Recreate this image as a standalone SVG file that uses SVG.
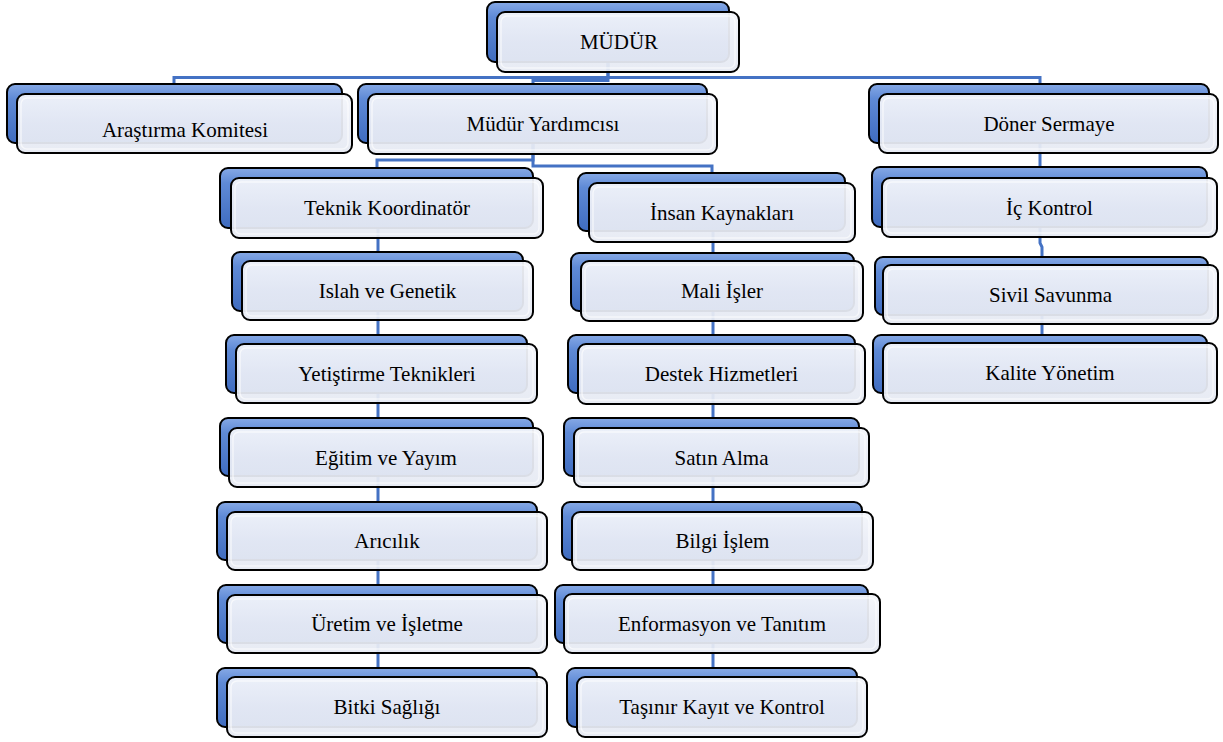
<svg xmlns="http://www.w3.org/2000/svg" width="1223" height="742" viewBox="0 0 1223 742">
<defs>
<linearGradient id="gBack" x1="0" y1="0" x2="0" y2="1">
<stop offset="0" stop-color="#86A9E6"/>
<stop offset="0.25" stop-color="#5F8AD6"/>
<stop offset="1" stop-color="#3F6CC0"/>
</linearGradient>
<linearGradient id="gFront" x1="0" y1="0" x2="0" y2="1">
<stop offset="0" stop-color="#F4F6FB"/>
<stop offset="0.5" stop-color="#EAEDF6"/>
<stop offset="1" stop-color="#E6EAF3"/>
</linearGradient>
</defs>
<style>
.back{fill:url(#gBack);stroke:#000;stroke-width:2;}
.front{fill:url(#gFront);fill-opacity:0.94;stroke:#000;stroke-width:2;}
.gloss{fill:none;stroke:#FFFFFF;stroke-opacity:0.6;stroke-width:1.5;}
.lbl{font-family:"Liberation Serif","Times New Roman",serif;font-size:21px;fill:#000;text-anchor:middle;}
.conn{fill:none;stroke:#4472C4;stroke-width:3;}
</style>
<rect width="1223" height="742" fill="#FFFFFF"/>
<g id="connectors">
<path class="conn" d="M608,62 V77.5 H174 V84"/>
<path class="conn" d="M608,77.5 H1040 V84"/>
<path class="conn" d="M608,62 V80.5 H533 V84"/>
<path class="conn" d="M533,143 V160 H377 V168"/>
<path class="conn" d="M533,143 V166 H712 V173"/>
<path class="conn" d="M378,228 V668"/>
<path class="conn" d="M713,231 V668"/>
<path class="conn" d="M1040,143 V243 L1042,247 V335"/>
</g>
<g id="n-mudur"><rect class="back" x="487" y="2" width="242" height="60" rx="8"/><rect class="front" x="497" y="12" width="242" height="60" rx="8"/><rect class="gloss" x="501" y="16" width="234" height="52" rx="6"/><text class="lbl" x="619" y="49">MÜDÜR</text></g>
<g id="n-arastirma"><rect class="back" x="7" y="84" width="335" height="59" rx="8"/><rect class="front" x="17" y="94" width="335" height="59" rx="8"/><rect class="gloss" x="21" y="98" width="327" height="51" rx="6"/><text class="lbl" x="185" y="137">Araştırma Komitesi</text></g>
<g id="n-yardimci"><rect class="back" x="358" y="84" width="349" height="59" rx="8"/><rect class="front" x="368" y="94" width="349" height="60" rx="8"/><rect class="gloss" x="372" y="98" width="341" height="52" rx="6"/><text class="lbl" x="543" y="131">Müdür Yardımcısı</text></g>
<g id="n-doner"><rect class="back" x="869" y="84" width="340" height="59" rx="8"/><rect class="front" x="879" y="94" width="339" height="59" rx="8"/><rect class="gloss" x="883" y="98" width="331" height="51" rx="6"/><text class="lbl" x="1049" y="131">Döner Sermaye</text></g>
<g id="n-teknik"><rect class="back" x="220" y="168" width="313" height="60" rx="8"/><rect class="front" x="231" y="178" width="312" height="60" rx="8"/><rect class="gloss" x="235" y="182" width="304" height="52" rx="6"/><text class="lbl" x="387" y="215">Teknik Koordinatör</text></g>
<g id="n-islah"><rect class="back" x="232" y="252" width="291" height="59" rx="8"/><rect class="front" x="242" y="261" width="291" height="59" rx="8"/><rect class="gloss" x="246" y="265" width="283" height="51" rx="6"/><text class="lbl" x="387.5" y="298">Islah ve Genetik</text></g>
<g id="n-yetistirme"><rect class="back" x="226" y="335" width="301" height="58" rx="8"/><rect class="front" x="236" y="344" width="301" height="59" rx="8"/><rect class="gloss" x="240" y="348" width="293" height="51" rx="6"/><text class="lbl" x="387" y="381">Yetiştirme Teknikleri</text></g>
<g id="n-egitim"><rect class="back" x="220" y="418" width="313" height="58" rx="8"/><rect class="front" x="229" y="428" width="314" height="59" rx="8"/><rect class="gloss" x="233" y="432" width="306" height="51" rx="6"/><text class="lbl" x="386" y="465">Eğitim ve Yayım</text></g>
<g id="n-aricilik"><rect class="back" x="217" y="502" width="320" height="58" rx="8"/><rect class="front" x="227" y="512" width="320" height="58" rx="8"/><rect class="gloss" x="231" y="516" width="312" height="50" rx="6"/><text class="lbl" x="387" y="548">Arıcılık</text></g>
<g id="n-uretim"><rect class="back" x="218" y="585" width="319" height="58" rx="8"/><rect class="front" x="227" y="595" width="320" height="58" rx="8"/><rect class="gloss" x="231" y="599" width="312" height="50" rx="6"/><text class="lbl" x="387" y="631">Üretim ve İşletme</text></g>
<g id="n-bitki"><rect class="back" x="217" y="668" width="320" height="59" rx="8"/><rect class="front" x="227" y="677" width="320" height="60" rx="8"/><rect class="gloss" x="231" y="681" width="312" height="52" rx="6"/><text class="lbl" x="387" y="714">Bitki Sağlığı</text></g>
<g id="n-insan"><rect class="back" x="578" y="173" width="267" height="58" rx="8"/><rect class="front" x="589" y="183" width="266" height="59" rx="8"/><rect class="gloss" x="593" y="187" width="258" height="51" rx="6"/><text class="lbl" x="722" y="220">İnsan Kaynakları</text></g>
<g id="n-mali"><rect class="back" x="571" y="253" width="283" height="58" rx="8"/><rect class="front" x="581" y="261" width="282" height="60" rx="8"/><rect class="gloss" x="585" y="265" width="274" height="52" rx="6"/><text class="lbl" x="722" y="298">Mali İşler</text></g>
<g id="n-destek"><rect class="back" x="568" y="335" width="287" height="58" rx="8"/><rect class="front" x="578" y="344" width="287" height="60" rx="8"/><rect class="gloss" x="582" y="348" width="279" height="52" rx="6"/><text class="lbl" x="721.5" y="381">Destek Hizmetleri</text></g>
<g id="n-satin"><rect class="back" x="564" y="418" width="295" height="58" rx="8"/><rect class="front" x="574" y="428" width="295" height="59" rx="8"/><rect class="gloss" x="578" y="432" width="287" height="51" rx="6"/><text class="lbl" x="721.5" y="465">Satın Alma</text></g>
<g id="n-bilgi"><rect class="back" x="562" y="502" width="300" height="58" rx="8"/><rect class="front" x="572" y="512" width="301" height="58" rx="8"/><rect class="gloss" x="576" y="516" width="293" height="50" rx="6"/><text class="lbl" x="722.5" y="548">Bilgi İşlem</text></g>
<g id="n-enformasyon"><rect class="back" x="555" y="585" width="313" height="58" rx="8"/><rect class="front" x="564" y="594" width="316" height="59" rx="8"/><rect class="gloss" x="568" y="598" width="308" height="51" rx="6"/><text class="lbl" x="722" y="631">Enformasyon ve Tanıtım</text></g>
<g id="n-tasinir"><rect class="back" x="567" y="668" width="290" height="59" rx="8"/><rect class="front" x="577" y="677" width="290" height="60" rx="8"/><rect class="gloss" x="581" y="681" width="282" height="52" rx="6"/><text class="lbl" x="722" y="714">Taşınır Kayıt ve Kontrol</text></g>
<g id="n-ickontrol"><rect class="back" x="872" y="167" width="335" height="60" rx="8"/><rect class="front" x="882" y="178" width="335" height="59" rx="8"/><rect class="gloss" x="886" y="182" width="327" height="51" rx="6"/><text class="lbl" x="1049.5" y="215">İç Kontrol</text></g>
<g id="n-sivil"><rect class="back" x="875" y="257" width="333" height="58" rx="8"/><rect class="front" x="883" y="265" width="335" height="59" rx="8"/><rect class="gloss" x="887" y="269" width="327" height="51" rx="6"/><text class="lbl" x="1050.5" y="302">Sivil Savunma</text></g>
<g id="n-kalite"><rect class="back" x="873" y="335" width="334" height="58" rx="8"/><rect class="front" x="883" y="343" width="334" height="60" rx="8"/><rect class="gloss" x="887" y="347" width="326" height="52" rx="6"/><text class="lbl" x="1050" y="380">Kalite Yönetim</text></g>
</svg>
